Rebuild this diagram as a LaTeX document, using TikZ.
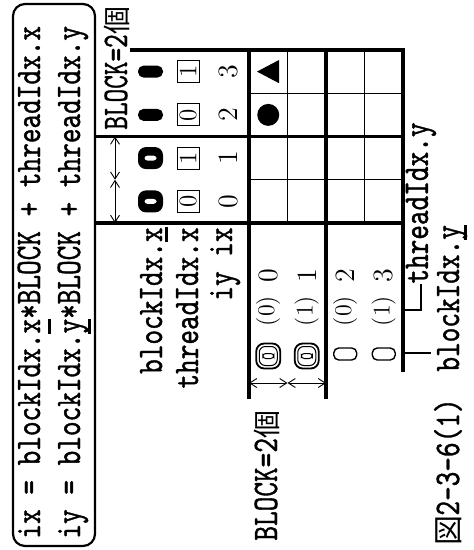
\documentclass[tikz,border=0pt]{standalone}
\usepackage{fontspec}
\usepackage{graphicx}
\usepackage{tikz}
\usetikzlibrary{arrows.meta}
\setmonofont{lmmono10-regular.otf}[FakeBold=1.2]
\newfontfamily\cjk{Noto Sans CJK JP}
\newcommand\mono{\fontsize{18}{22}\selectfont\ttfamily}
\newcommand\numfont{\fontsize{14}{16}\selectfont\rmfamily}
\newcommand\cond[2][0.775]{\scalebox{#1}[1]{#2}}
\newcommand\ul[2][-5.5pt]{\setbox0=\hbox{#2}\rlap{\rule[#1]{\wd0}{1.3pt}}\box0}
\newcommand\ko{{\cjk\fontsize{14}{14}\selectfont 個}}

\begin{document}
\begin{tikzpicture}[x=0.5pt,y=-0.5pt,>={Straight Barb[length=3.5pt,width=4.5pt]},
    txt/.style={rotate=90,inner sep=0,font=\mono},
    num/.style={rotate=90,inner sep=0,font=\numfont},
    thickln/.style={line width=1.8pt,line cap=rect},
    thinln/.style={line width=0.6pt},
    dimarr/.style={<->,line width=0.45pt}]
  \useasboundingbox (0,0) rectangle (473,550);

  % formula box
  \draw[line width=1.1pt,rounded corners=6pt] (13,4) rectangle (95,546);
  \node[txt,anchor=base west] (fx) at (40,539) {\cond{ix = blockIdx.\ul{x}*BLOCK + threadIdx.x}};
  \node[txt,anchor=base west] (fy) at (80,539) {\cond{iy = blockIdx.\ul{y}*BLOCK + threadIdx.y}};

  % table
  \draw[thickln] (132,50) -- (403,50);
  \draw[thickln] (97,136.5) -- (403,136.5);
  \draw[thickln] (97,223) -- (403,223);
  \draw[thinln] (249,93.25) -- (403,93.25);
  \draw[thinln] (249,179.75) -- (403,179.75);
  \draw[thickln] (249,50) -- (249,397);
  \draw[thickln] (326,50) -- (326,397);
  \draw[thickln] (403,50) -- (403,370);
  \draw[thinln] (287.5,50) -- (287.5,223);
  \draw[thinln] (364.5,50) -- (364.5,223);

  % BLOCK widths
  \coordinate (t0) at (115,136.5);
  \coordinate (t1) at (115,179.75);
  \coordinate (t2) at (115,223);
  \draw[dimarr] (t0) -- (t1);
  \draw[dimarr] (t1) -- (t2);
  \coordinate (l0) at (249,383);
  \coordinate (l1) at (287.5,383);
  \coordinate (l2) at (326,383);
  \draw[dimarr] (l0) -- (l1);
  \draw[dimarr] (l1) -- (l2);
  \node[txt,anchor=base west] (blkt) at (127,130) {\cond[0.72]{BLOCK=2}\ko};
  \node[txt,anchor=base west] (blkl) at (277,541) {\cond{BLOCK=2}\ko};

  % header
  \node[txt,anchor=base east] (lbx) at (162,227) {\cond{blockIdx.\ul[-3pt]{x}}};
  \node[txt,anchor=base east] (ltx) at (198,227) {\cond{threadIdx.x}};
  \node[txt,anchor=base east] (lix) at (232,227) {\cond{iy ix}};
  \foreach \c/\n [count=\i from 0] in {201.4/0,158.1/1,114.9/0,71.6/1} {
    \node[num,draw,line width=0.5pt,minimum size=11pt,font=\fontsize{12.5}{12.5}\selectfont] (tx\i) at (188,\c) {\n};
    \node[num] (ix\i) at (228,\c) {\i};
  }
  \foreach \c in {201.4,158.1} {
    \begin{scope}[shift={(150.5,\c)}]
      \fill[rounded corners=4pt] (-12.5,-11) rectangle (12.5,11);
      \fill[white,rounded corners=1.5pt] (-6,-2.5) rectangle (6,2.5);
    \end{scope}
  }
  \foreach \c in {114.9,71.6}
    \fill[shift={(150.5,\c)},rounded corners=2.8pt] (-12.5,-6) rectangle (12.5,6);

  % rows
  \foreach \r/\n [count=\j from 0] in {268.25/0,306.75/1,345.25/0,383.75/1} {
    \node[num] (iy\j) at (\r,276) {\j};
    \node[num,font=\fontsize{12}{12}\selectfont] (ty\j) at (\r,311) {(\n)};
  }
  \foreach \r in {268.25,306.75} {
    \begin{scope}[shift={(\r,356)}]
      \draw[line width=0.9pt,rounded corners=4pt] (-12,-12.5) rectangle (12,12.5);
      \draw[line width=0.5pt,rounded corners=3pt] (-9,-9.5) rectangle (9,9.5);
      \draw[line width=0.5pt,rounded corners=1.5pt] (-5.5,-2.5) rectangle (5.5,2.5);
    \end{scope}
  }
  \foreach \r in {345.25,383.75}
    \draw[shift={(\r,354)},line width=0.7pt,rounded corners=2.5pt] (-11.5,-6) rectangle (11.5,6);

  % marked cells
  \fill (268.25,114.9) circle[radius=5.5pt];
  \fill (257,71.6) -- (279,60) -- (279,83.2) -- cycle;

  % leaders
  \node[txt,anchor=west] (lty) at (421,284) {\cond{threadIdx.y}};
  \coordinate (tyfoot) at (403,310);
  \draw[thinln] (tyfoot) -| (lty.west);
  \node[txt,anchor=base west] (lby) at (459,372) {\cond{blockIdx.\ul[-4pt]{y}}};
  \coordinate (byfoot) at (403,353);
  \draw[thinln,shorten >=3pt] (byfoot) -- (byfoot -| lby.north west);
  \node[txt,anchor=base west] (cap) at (459,546) {{\cjk\fontsize{15}{15}\selectfont 図}\cond{2-3-6(1)}};
\end{tikzpicture}
\end{document}
